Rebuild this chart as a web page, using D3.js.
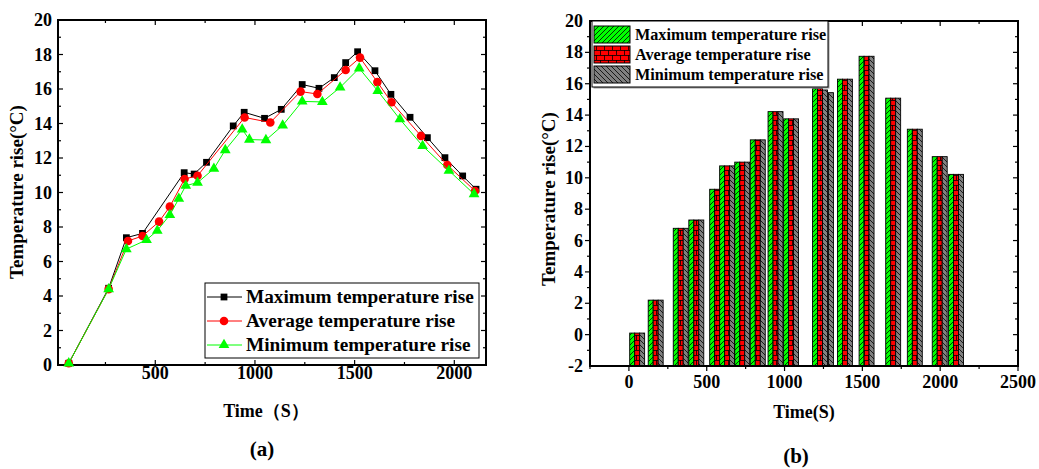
<!DOCTYPE html>
<html>
<head>
<meta charset="utf-8">
<script src="https://cdn.jsdelivr.net/npm/d3@7"></script>
<style>
  body { margin: 0; background: #fff; }
  svg text { font-family: "Times New Roman", "Liberation Serif", serif; font-weight: bold; }
</style>
</head>
<body>
<svg width="1039" height="469"></svg>
<script>
// ---- data for (a): each series was sampled at its own times ----
var maxTime = [66, 266, 355, 436, 645, 695, 757, 891, 946, 1048, 1132, 1237, 1321, 1398, 1455, 1515, 1602, 1682, 1778, 1865, 1953, 2042, 2109];
var maxRise = [0.1, 4.45, 7.38, 7.63, 11.15, 11.07, 11.75, 13.86, 14.65, 14.3, 14.82, 16.26, 16.04, 16.66, 17.53, 18.16, 17.06, 15.69, 14.36, 13.18, 12.02, 10.96, 10.19];
var avgTime = [66, 266, 363, 436, 519, 573, 647, 712, 948, 1077, 1229, 1313, 1455, 1527, 1614, 1685, 1833, 1965, 2104];
var avgRise = [0.1, 4.4, 7.19, 7.48, 8.31, 9.18, 10.78, 10.97, 14.35, 14.06, 15.85, 15.71, 17.1, 17.82, 16.4, 15.23, 13.28, 11.59, 10.09];
var minTime = [66, 266, 355, 456, 510, 573, 618, 653, 712, 794, 851, 936, 972, 1055, 1139, 1237, 1338, 1427, 1523, 1616, 1727, 1841, 1973, 2099];
var minRise = [0.1, 4.4, 6.72, 7.25, 7.79, 8.7, 9.64, 10.4, 10.57, 11.38, 12.46, 13.66, 13.07, 13.04, 13.89, 15.28, 15.25, 16.09, 17.2, 15.89, 14.25, 12.7, 11.27, 9.91];

// ---- data for (b): grouped columns, null = no column ----
var barTime = [53, 172, 333, 433, 567, 631, 728, 828, 942, 1042, 1228, 1266, 1388, 1527, 1698, 1837, 1997, 2102];
var barMax  = [0.1, 2.2, 6.78, 7.31, 9.27, 10.76, 11.0, 12.42, 14.22, 13.76, 15.69, null, 16.29, 17.75, 15.08, 13.1, 11.35, 10.22];
var barAvg  = [0.1, 2.2, 6.78, 7.31, 9.27, 10.76, 11.0, 12.42, 14.22, 13.76, 15.69, null, 16.29, 17.75, 15.08, 13.1, 11.35, 10.22];
var barMin  = [0.1, 2.2, 6.78, 7.31, null, 10.76, 11.0, 12.42, 14.22, 13.76, 15.6, 15.43, 16.29, 17.75, 15.08, 13.1, 11.35, 10.22];

var seriesNames = ["Maximum temperature rise", "Average temperature rise", "Minimum temperature rise"];
var ticksA = [500, 1000, 1500, 2000];
var ticksB = [0, 500, 1000, 1500, 2000, 2500];

var svg = d3.select("svg");

// patterns for the columns
var defs = svg.append("defs");
var pg = defs.append("pattern").attr("id", "pGreen").attr("patternUnits", "userSpaceOnUse")
    .attr("width", 5).attr("height", 5);
pg.append("rect").attr("width", 5).attr("height", 5).attr("fill", "#00ff00");
pg.append("path").attr("d", "M-1,1 l2,-2 M0,5 l5,-5 M4,6 l2,-2").attr("stroke", "#000").attr("stroke-width", 0.8);

var pr = defs.append("pattern").attr("id", "pRed").attr("patternUnits", "userSpaceOnUse")
    .attr("width", 8).attr("height", 10);
pr.append("rect").attr("width", 8).attr("height", 10).attr("fill", "#ff0000");
pr.append("path").attr("d", "M0,0.5 h8 M0,5.5 h8 M0.5,0 v5 M4.5,5 v5").attr("stroke", "#000").attr("stroke-width", 0.8);

var pk = defs.append("pattern").attr("id", "pGray").attr("patternUnits", "userSpaceOnUse")
    .attr("width", 5).attr("height", 5);
pk.append("rect").attr("width", 5).attr("height", 5).attr("fill", "#808080");
pk.append("path").attr("d", "M-1,4 l2,2 M0,0 l5,5 M4,-1 l2,2").attr("stroke", "#000").attr("stroke-width", 0.8);

// ================= (a) line chart =================
var xa = d3.scaleLinear().domain([12, 2159]).range([58, 486]);
var ya = d3.scaleLinear().domain([0, 20]).range([365, 20]);

var ga = svg.append("g");

// ticks (all inward)
function tickLines(g, list, fn) {
  g.selectAll(null).data(list).enter().append("line")
    .each(function(d) { var a = fn(d); d3.select(this).attr("x1", a[0]).attr("y1", a[1]).attr("x2", a[2]).attr("y2", a[3]); })
    .attr("stroke", "#000").attr("stroke-width", 1.2);
}
var xaTicks = d3.range(250, 2159, 250);
tickLines(ga, xaTicks, function(d) { var l = d % 500 ? 3 : 5; return [xa(d), 365, xa(d), 365 - l]; });
tickLines(ga, xaTicks, function(d) { var l = d % 500 ? 3 : 5; return [xa(d), 20, xa(d), 20 + l]; });
var yaTicks = d3.range(1, 20, 1);
tickLines(ga, yaTicks, function(d) { var l = d % 2 ? 3 : 5; return [58, ya(d), 58 + l, ya(d)]; });
tickLines(ga, yaTicks, function(d) { var l = d % 2 ? 3 : 5; return [486, ya(d), 486 - l, ya(d)]; });

ga.append("rect").attr("x", 58).attr("y", 20).attr("width", 428).attr("height", 345)
  .attr("fill", "none").attr("stroke", "#000").attr("stroke-width", 2);

ga.selectAll(".xl").data(ticksA).enter().append("text")
  .attr("x", function(d) { return xa(d); }).attr("y", 379)
  .attr("text-anchor", "middle").attr("font-size", 18).text(function(d) { return d; });
ga.selectAll(".yl").data(d3.range(0, 21, 2)).enter().append("text")
  .attr("x", 52).attr("y", function(d) { return ya(d) + 6; })
  .attr("text-anchor", "end").attr("font-size", 18).text(function(d) { return d; });

ga.append("text").attr("transform", "translate(23,192) rotate(-90)")
  .attr("text-anchor", "middle").attr("font-size", 19).text("Temperature rise(°C)");
ga.append("text").attr("x", 266).attr("y", 417).attr("text-anchor", "middle")
  .attr("font-size", 18).text("Time（S）");
ga.append("text").attr("x", 262).attr("y", 456).attr("text-anchor", "middle")
  .attr("font-size", 21).text("(a)");

var lineA = d3.line().x(function(d) { return xa(d[0]); }).y(function(d) { return ya(d[1]); });
var seriesA = [
  { pts: d3.zip(maxTime, maxRise), color: "#000000", shape: d3.symbolSquare, size: 46 },
  { pts: d3.zip(avgTime, avgRise), color: "#ff0000", shape: d3.symbolCircle, size: 58 },
  { pts: d3.zip(minTime, minRise), color: "#00ff00", shape: d3.symbolTriangle, size: 50 }
];
seriesA.forEach(function(s) {
  ga.append("path").attr("d", lineA(s.pts)).attr("fill", "none")
    .attr("stroke", s.color).attr("stroke-width", 1);
  ga.selectAll(null).data(s.pts).enter().append("path")
    .attr("d", d3.symbol().type(s.shape).size(s.size))
    .attr("transform", function(d) { return "translate(" + xa(d[0]) + "," + ya(d[1]) + ")"; })
    .attr("fill", s.color);
});

// legend (a)
var lga = ga.append("g");
lga.append("rect").attr("x", 205).attr("y", 283).attr("width", 274).attr("height", 75)
  .attr("fill", "#fff").attr("stroke", "#000").attr("stroke-width", 1);
seriesA.forEach(function(s, i) {
  var cy = 297 + i * 24;
  lga.append("line").attr("x1", 207).attr("x2", 242).attr("y1", cy).attr("y2", cy)
    .attr("stroke", s.color).attr("stroke-width", 1);
  lga.append("path").attr("d", d3.symbol().type(s.shape).size(s.size)())
    .attr("transform", "translate(224," + cy + ")").attr("fill", s.color);
  lga.append("text").attr("x", 246).attr("y", cy + 6).attr("font-size", 19.3).text(seriesNames[i]);
});

// ================= (b) column chart =================
var xb = d3.scaleLinear().domain([-250, 2500]).range([590, 1018]);
var yb = d3.scaleLinear().domain([-2, 20]).range([366, 21]);
var gb = svg.append("g");

var barW = xb(32) - xb(0);   // one column is 32 s wide
var fills = ["url(#pGreen)", "url(#pRed)", "url(#pGray)"];
barTime.forEach(function(t, i) {
  [barMax[i], barAvg[i], barMin[i]].forEach(function(v, k) {
    if (v == null) return;
    gb.append("rect")
      .attr("x", xb(t) + (k - 1.5) * barW).attr("width", barW)
      .attr("y", yb(v)).attr("height", yb(-2) - yb(v))
      .attr("fill", fills[k]).attr("stroke", "#000").attr("stroke-width", 0.9);
  });
});

var xbTicks = d3.range(-250, 2501, 250);
tickLines(gb, xbTicks, function(d) { var l = d % 500 ? 3 : 5; return [xb(d), 366, xb(d), 366 + l]; });
tickLines(gb, xbTicks, function(d) { var l = d % 500 ? 3 : 5; return [xb(d), 21, xb(d), 21 + l]; });
var ybTicks = d3.range(-1, 20, 1);
tickLines(gb, ybTicks, function(d) { var l = d % 2 ? 3 : 5; return [590, yb(d), 590 - l, yb(d)]; });
tickLines(gb, ybTicks, function(d) { var l = d % 2 ? 3 : 5; return [1018, yb(d), 1018 - l, yb(d)]; });

gb.append("rect").attr("x", 590).attr("y", 21).attr("width", 428).attr("height", 345)
  .attr("fill", "none").attr("stroke", "#000").attr("stroke-width", 2);

gb.selectAll(".xl").data(ticksB).enter().append("text")
  .attr("x", function(d) { return xb(d); }).attr("y", 388)
  .attr("text-anchor", "middle").attr("font-size", 18).text(function(d) { return d; });
gb.selectAll(".yl").data(d3.range(-2, 21, 2)).enter().append("text")
  .attr("x", 583).attr("y", function(d) { return yb(d) + 6; })
  .attr("text-anchor", "end").attr("font-size", 18).text(function(d) { return d; });

gb.append("text").attr("transform", "translate(555,199) rotate(-90)")
  .attr("text-anchor", "middle").attr("font-size", 19).text("Temperature rise(°C)");
gb.append("text").attr("x", 804).attr("y", 418).attr("text-anchor", "middle")
  .attr("font-size", 18).text("Time(S)");
gb.append("text").attr("x", 796).attr("y", 463).attr("text-anchor", "middle")
  .attr("font-size", 21).text("(b)");

// legend (b)
var lgb = gb.append("g");
lgb.append("rect").attr("x", 593.5).attr("y", 22.5).attr("width", 236).attr("height", 66).attr("fill", "#999");
lgb.append("rect").attr("x", 592).attr("y", 21).attr("width", 236).attr("height", 66)
  .attr("fill", "#fff").attr("stroke", "#000").attr("stroke-width", 1);
seriesNames.forEach(function(n, i) {
  var top = 26 + i * 20;
  lgb.append("rect").attr("x", 594).attr("y", top).attr("width", 36).attr("height", 17)
    .attr("fill", fills[i]).attr("stroke", "#000").attr("stroke-width", 1);
  lgb.append("text").attr("x", 635).attr("y", top + 14).attr("font-size", 16.2).text(n);
});
</script>
</body>
</html>
